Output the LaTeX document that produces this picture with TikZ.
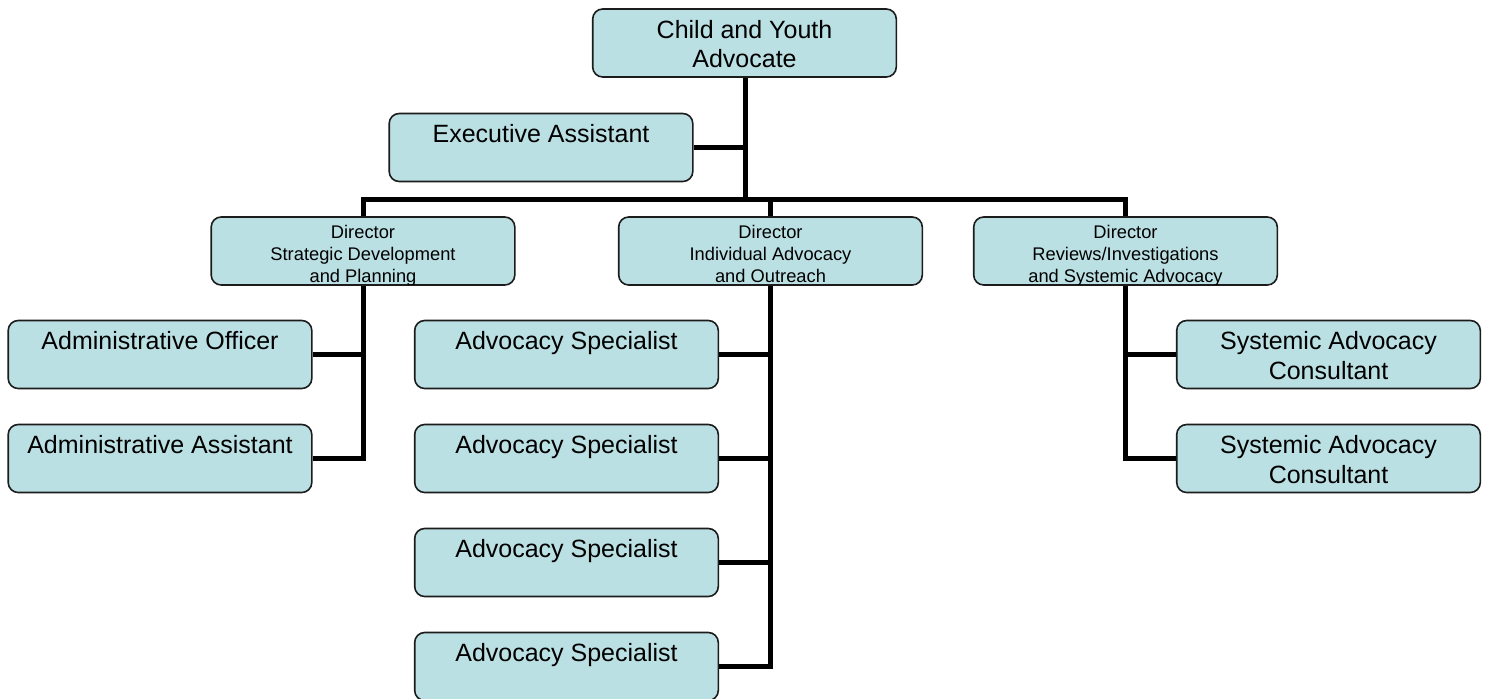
\documentclass[tikz,border=0pt]{standalone}
\usepackage{fontspec}
\setmainfont{Liberation Sans}
\usepackage{tikz}
\usetikzlibrary{positioning}
\definecolor{boxfill}{RGB}{187,224,227}
\definecolor{boxline}{RGB}{28,28,28}
\newcommand{\titlefont}{\fontsize{12.5pt}{14.75pt}\selectfont}
\newcommand{\dirfont}{\fontsize{9.15pt}{11pt}\selectfont}

\begin{document}
\begin{tikzpicture}[x=0.5pt,y=-0.5pt,
    unit/.style={draw=boxline,fill=boxfill,line width=0.8pt,rounded corners=5pt,
      minimum width=151.8pt,minimum height=34pt,inner sep=0pt},
    title/.style={font=\titlefont,align=center,anchor=north,inner sep=0pt},
    dirtitle/.style={font=\dirfont,align=center,anchor=north,inner sep=0pt},
    link/.style={line width=2.5pt}]
    \useasboundingbox[fill=white] (0,0) rectangle (1488,698);

    % top of the chart
    \node[unit] (cya) at (744.5,43) {};
    \node[title] (cya-t) at ([yshift=-5.75pt]cya.north) {Child and Youth\\Advocate};
    \node[unit] (exec) at (541,147.5) {};
    \node[title] (exec-t) at ([yshift=-5.75pt]exec.north) {Executive Assistant};

    % directors, text cut at the box bottom
    \node[unit] (dsdp) at (363,251) {};
    \node[unit] (diao) at (770.5,251) {};
    \node[unit] (drsa) at (1125.5,251) {};
    \begin{scope}
        \clip ([yshift=0.8pt]dsdp.south west) rectangle (dsdp.north east);
        \node[dirtitle] (dsdp-t) at ([yshift=-4.5pt]dsdp.north) {Director\\Strategic Development\\and Planning};
    \end{scope}
    \begin{scope}
        \clip ([yshift=0.8pt]diao.south west) rectangle (diao.north east);
        \node[dirtitle] (diao-t) at ([yshift=-4.5pt]diao.north) {Director\\Individual Advocacy\\and Outreach};
    \end{scope}
    \begin{scope}
        \clip ([yshift=0.8pt]drsa.south west) rectangle (drsa.north east);
        \node[dirtitle] (drsa-t) at ([yshift=-4.5pt]drsa.north) {Director\\Reviews/Investigations\\and Systemic Advocacy};
    \end{scope}

    % staff
    \node[unit] (admoff) at (160,354.5) {};
    \node[title] (admoff-t) at ([yshift=-5.75pt]admoff.north) {Administrative Officer};
    \node[unit] (admasst) at (160,458.5) {};
    \node[title] (admasst-t) at ([yshift=-5.75pt]admasst.north) {Administrative Assistant};
    \foreach \n/\y in {A/354.5,B/458.5,C/562.5,D/666.5} {
        \node[unit] (adv\n) at (566.5,\y) {};
        \node[title] (adv\n-t) at ([yshift=-5.75pt]adv\n.north) {Advocacy Specialist};
    }
    \node[unit] (sacA) at (1328.5,354.5) {};
    \node[title] (sacA-t) at ([yshift=-5.75pt]sacA.north) {Systemic Advocacy\\Consultant};
    \node[unit] (sacB) at (1328.5,458.5) {};
    \node[title] (sacB-t) at ([yshift=-5.75pt]sacB.north) {Systemic Advocacy\\Consultant};

    % connectors
    \coordinate (bar) at (745,199);
    \draw[link] (cya.south -| bar) -- (bar);
    \draw[link] (exec.east) -- (exec.east -| bar);
    \draw[link] (dsdp.north) |- (bar) -| (drsa.north);
    \draw[link] (diao.north) -- (diao.north |- bar);
    \draw[link] (dsdp.south) |- (admasst.east);
    \draw[link] (admoff.east) -- (admoff.east -| dsdp.south);
    \draw[link] (diao.south) |- (advD.east);
    \foreach \b in {advA,advB,advC}
        \draw[link] (\b.east) -- (\b.east -| diao.south);
    \draw[link] (drsa.south) |- (sacB.west);
    \draw[link] (sacA.west) -- (sacA.west -| drsa.south);
\end{tikzpicture}
\end{document}
